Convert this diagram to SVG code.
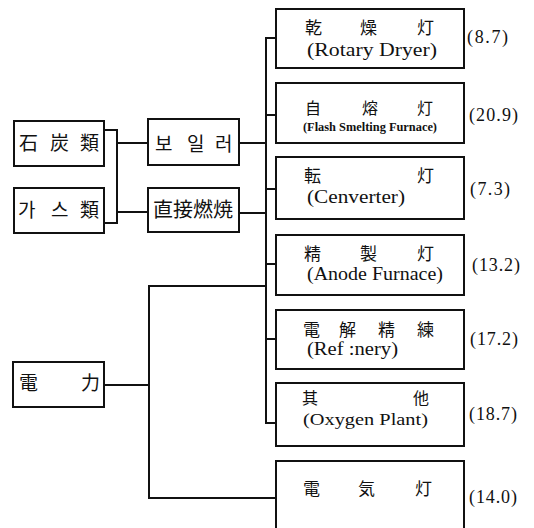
<svg xmlns="http://www.w3.org/2000/svg" width="534" height="528" viewBox="0 0 534 528">
<style>
.box{fill:#fff;stroke:#111;stroke-width:2}
.ln{fill:none;stroke:#111;stroke-width:2}
.cj{font-family:"Liberation Serif","Noto Sans CJK KR",serif;fill:#111}
.en{font-family:"Liberation Serif",serif;fill:#111}
.num{font-family:"Liberation Serif",serif;fill:#111;font-size:18px}
</style>
<rect width="534" height="528" fill="#fff"/>
<g id="connectors">
<path class="ln" d="M104,130 H117 V223 H104"/>
<path class="ln" d="M117,143 H148 M117,212 H148"/>
<path class="ln" d="M239,143 H266 M239,213 H266"/>
<path class="ln" d="M276,38 H266 V423 H276"/>
<path class="ln" d="M266,115 H276 M266,189 H276 M266,264 H276 M266,339 H276"/>
<path class="ln" d="M104,385 H149 M266,286 H149 V498 H276"/>
</g>
<g id="coal"><rect class="box" x="14" y="121" width="90" height="45"/><text class="cj" font-size="19" x="19 50 80" y="150">石炭類</text></g>
<g id="gas"><rect class="box" x="14" y="188" width="90" height="45"/><text class="cj" font-size="19" x="18 51 80" y="217">가스類</text></g>
<g id="boiler"><rect class="box" x="148" y="119" width="91" height="46"/><text class="cj" font-size="19" x="155 187 215" y="151">보일러</text></g>
<g id="direct"><rect class="box" x="148" y="188" width="91" height="44"/><text class="cj" font-size="20" x="153" y="217">直接燃焼</text></g>
<g id="power"><rect class="box" x="13" y="362" width="91" height="45"/><text class="cj" font-size="19" x="19 81" y="390">電力</text></g>
<g id="dryer"><rect class="box" x="276" y="9" width="188" height="59"/><text class="cj" font-size="17" x="305 360 417" y="34">乾燥灯</text><text class="en" font-size="19" x="307" y="56" textLength="130" lengthAdjust="spacingAndGlyphs">(Rotary Dryer)</text><text class="num" x="467" y="43" textLength="41" lengthAdjust="spacing">(8.7)</text></g>
<g id="flash"><rect class="box" x="276" y="83" width="188" height="60"/><text class="cj" font-size="16" x="305 362 417" y="114">自熔灯</text><text class="en" font-size="12" font-weight="bold" x="303" y="131" textLength="134" lengthAdjust="spacingAndGlyphs">(Flash Smelting Furnace)</text><text class="num" x="469" y="121" textLength="49" lengthAdjust="spacing">(20.9)</text></g>
<g id="converter"><rect class="box" x="276" y="157" width="188" height="62"/><text class="cj" font-size="17" x="304 417" y="182">転灯</text><text class="en" font-size="18" x="307" y="203" textLength="98" lengthAdjust="spacingAndGlyphs">(Cenverter)</text><text class="num" x="470" y="195" textLength="40" lengthAdjust="spacing">(7.3)</text></g>
<g id="anode"><rect class="box" x="276" y="235" width="188" height="60"/><text class="cj" font-size="17" x="304 360 417" y="260">精製灯</text><text class="en" font-size="18" x="307" y="280" textLength="136" lengthAdjust="spacingAndGlyphs">(Anode Furnace)</text><text class="num" x="472" y="271" textLength="48" lengthAdjust="spacing">(13.2)</text></g>
<g id="refinery"><rect class="box" x="276" y="310" width="188" height="59"/><text class="cj" font-size="17" x="303 339 378 417" y="336">電解精練</text><text class="en" font-size="18" x="307" y="355" textLength="91" lengthAdjust="spacingAndGlyphs">(Ref :nery)</text><text class="num" x="470" y="345" textLength="48" lengthAdjust="spacing">(17.2)</text></g>
<g id="oxygen"><rect class="box" x="276" y="383" width="188" height="63"/><text class="cj" font-size="16" x="302 413" y="404">其他</text><text class="en" font-size="17" x="303" y="425" textLength="125" lengthAdjust="spacingAndGlyphs">(Oxygen Plant)</text><text class="num" x="469" y="420" textLength="48" lengthAdjust="spacing">(18.7)</text></g>
<g id="electric"><rect class="box" x="276" y="461" width="188" height="80"/><text class="cj" font-size="17" x="303 358 415" y="495">電気灯</text><text class="num" x="469" y="503" textLength="48" lengthAdjust="spacing">(14.0)</text></g>
</svg>
